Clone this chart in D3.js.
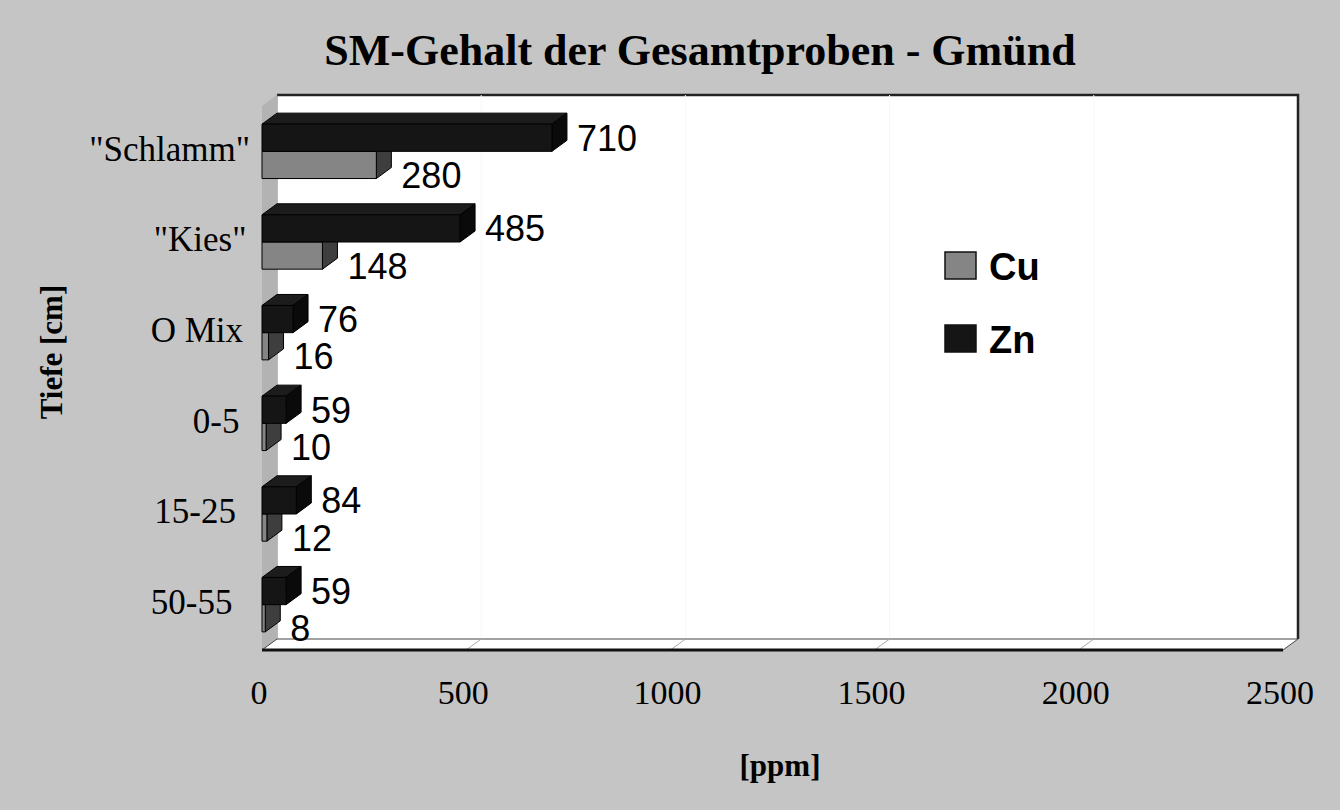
<!DOCTYPE html>
<html>
<head>
<meta charset="utf-8">
<script src="https://cdn.jsdelivr.net/npm/d3@7"></script>
<style>
  body { margin: 0; background: #c5c5c5; }
  svg { display: block; }
</style>
</head>
<body>
<div id="chart"></div>
<script>
/* Data */
var categories = ['"Schlamm"', '"Kies"', "O Mix", "0-5", "15-25", "50-55"];
var cuValues = [280, 148, 16, 10, 12, 8];
var znValues = [710, 485, 76, 59, 84, 59];
var seriesNames = ["Zn", "Cu"];
var xTicks = [0, 500, 1000, 1500, 2000, 2500];

var width = 1340, height = 810;
var dx = 15, dy = -11; // 3d depth offset

var svg = d3.select("#chart").append("svg")
  .attr("width", width)
  .attr("height", height);

svg.append("rect").attr("width", width).attr("height", height).attr("fill", "#c5c5c5");

var x = d3.scaleLinear().domain([0, 2500]).range([262, 1283]);
var y = d3.scaleBand().domain(categories).range([106, 650])
  .paddingInner(0.4).paddingOuter(0.2);
var ys = d3.scaleBand().domain(seriesNames).range([0, y.bandwidth()]);

var x0 = x.range()[0], x1 = x.range()[1];
var yTop = y.range()[0], yBot = y.range()[1];

function pts(a) { return a.map(function(p) { return p.join(","); }).join(" "); }

/* walls */
// back wall
svg.append("rect")
  .attr("x", x0 + dx).attr("y", yTop + dy)
  .attr("width", x1 - x0).attr("height", yBot - yTop)
  .attr("fill", "#fff");
svg.append("polyline")
  .attr("points", pts([[x0 + dx, yTop + dy], [x1 + dx, yTop + dy], [x1 + dx, yBot + dy]]))
  .attr("fill", "none").attr("stroke", "#222").attr("stroke-width", 2.5);
svg.append("line")
  .attr("x1", x0 + dx).attr("x2", x0 + dx).attr("y1", yTop + dy).attr("y2", yBot + dy)
  .attr("stroke", "#777").attr("stroke-width", 1);

// very faint gridlines on back wall
svg.append("g").selectAll("line").data(xTicks.slice(1, -1)).enter().append("line")
  .attr("x1", function(d) { return x(d) + dx; }).attr("x2", function(d) { return x(d) + dx; })
  .attr("y1", yTop + dy).attr("y2", yBot + dy)
  .attr("stroke", "#f7f7f7").attr("stroke-width", 1);

// left wall
svg.append("polygon")
  .attr("points", pts([[x0, yTop], [x0 + dx, yTop + dy], [x0 + dx, yBot + dy], [x0, yBot]]))
  .attr("fill", "#b3b3b3");

// floor
svg.append("polygon")
  .attr("points", pts([[x0, yBot], [x0 + dx, yBot + dy], [x1 + dx, yBot + dy], [x1, yBot]]))
  .attr("fill", "#fff").attr("stroke", "#444").attr("stroke-width", 1);
svg.append("g").selectAll("line").data(xTicks.slice(1, -1)).enter().append("line")
  .attr("x1", function(d) { return x(d); }).attr("x2", function(d) { return x(d) + dx; })
  .attr("y1", yBot).attr("y2", yBot + dy)
  .attr("stroke", "#aaa").attr("stroke-width", 1);
svg.append("line")
  .attr("x1", x0).attr("x2", x1).attr("y1", yBot).attr("y2", yBot)
  .attr("stroke", "#111").attr("stroke-width", 3);

/* bars */
var colors = {
  Cu: { front: "#858585", top: "#6c6c6c", side: "#3e3e3e" },
  Zn: { front: "#151515", top: "#1c1c1c", side: "#0a0a0a" }
};

var bars = [];
categories.forEach(function(c, i) {
  bars.push({ cat: c, series: "Cu", value: cuValues[i] });
  bars.push({ cat: c, series: "Zn", value: znValues[i] });
});

var gBars = svg.append("g");
bars.forEach(function(d) {
  var top = y(d.cat) + ys(d.series), bot = top + ys.bandwidth();
  var xe = x(d.value), col = colors[d.series];
  var g = gBars.append("g").attr("stroke", "#000").attr("stroke-width", 1).attr("stroke-linejoin", "round");
  g.append("polygon")
    .attr("points", pts([[x0, top], [x0 + dx, top + dy], [xe + dx, top + dy], [xe, top]]))
    .attr("fill", col.top);
  g.append("polygon")
    .attr("points", pts([[xe, top], [xe + dx, top + dy], [xe + dx, bot + dy], [xe, bot]]))
    .attr("fill", col.side);
  g.append("rect")
    .attr("x", x0).attr("y", top).attr("width", xe - x0).attr("height", bot - top)
    .attr("fill", col.front);
});

/* value labels */
svg.append("g").selectAll("text").data(bars).enter().append("text")
  .attr("x", function(d) { return x(d.value) + dx + 10; })
  .attr("y", function(d) {
    var mid = y(d.cat) + ys(d.series) + ys.bandwidth() / 2;
    return d.series === "Cu" ? mid + 10 : mid;
  })
  .attr("dy", "0.36em")
  .attr("font-family", "'Liberation Sans', Arial, sans-serif")
  .attr("font-size", 36)
  .attr("fill", "#000")
  .text(function(d) { return d.value; });

/* category labels */
svg.append("g").selectAll("text").data(categories).enter().append("text")
  .attr("x", function(d, i) { return 250 - i * 3.5; })
  .attr("y", function(d) { return y(d) + y.bandwidth() / 2 - 3; })
  .attr("dy", "0.35em")
  .attr("text-anchor", "end")
  .attr("font-family", "'Liberation Serif', 'Times New Roman', serif")
  .attr("font-size", 35)
  .text(function(d) { return d; });

/* x tick labels */
svg.append("g").selectAll("text").data(xTicks).enter().append("text")
  .attr("x", function(d) { return x(d) - 3; })
  .attr("y", 704)
  .attr("text-anchor", "middle")
  .attr("font-family", "'Liberation Serif', 'Times New Roman', serif")
  .attr("font-size", 34)
  .text(function(d) { return d; });

/* titles */
svg.append("text")
  .attr("x", 700).attr("y", 65)
  .attr("text-anchor", "middle")
  .attr("font-family", "'Liberation Serif', 'Times New Roman', serif")
  .attr("font-weight", "bold").attr("font-size", 44)
  .text("SM-Gehalt der Gesamtproben - Gmünd");

svg.append("text")
  .attr("x", 780).attr("y", 776)
  .attr("text-anchor", "middle")
  .attr("font-family", "'Liberation Serif', 'Times New Roman', serif")
  .attr("font-weight", "bold").attr("font-size", 31)
  .text("[ppm]");

svg.append("text")
  .attr("transform", "translate(62,352) rotate(-90)")
  .attr("text-anchor", "middle")
  .attr("font-family", "'Liberation Serif', 'Times New Roman', serif")
  .attr("font-weight", "bold").attr("font-size", 31)
  .text("Tiefe [cm]");

/* legend */
var legend = svg.append("g").selectAll("g").data(["Cu", "Zn"]).enter().append("g")
  .attr("transform", function(d, i) { return "translate(945," + (252 + i * 73) + ")"; });
legend.append("rect")
  .attr("width", 31).attr("height", 27)
  .attr("fill", function(d) { return colors[d].front; })
  .attr("stroke", "#111").attr("stroke-width", 1.5);
legend.append("text")
  .attr("x", 44).attr("y", 14).attr("dy", "0.36em")
  .attr("font-family", "'Liberation Sans', Arial, sans-serif")
  .attr("font-weight", "bold").attr("font-size", 38)
  .text(function(d) { return d; });
</script>
</body>
</html>
